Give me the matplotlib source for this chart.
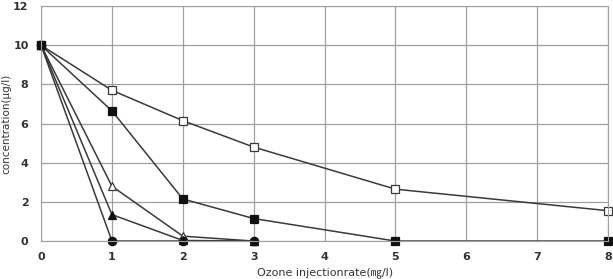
import matplotlib
matplotlib.use("Agg")
import matplotlib.pyplot as plt

plt.rcParams['font.family'] = ['DejaVu Sans', 'Noto Sans CJK KR']

x_open_sq = [0, 1, 2, 3, 5, 8]
y_open_sq = [10, 7.7, 6.15, 4.8, 2.65, 1.55]
x_fill_sq = [0, 1, 2, 3, 5, 8]
y_fill_sq = [10, 6.65, 2.15, 1.15, 0, 0]
x_open_tri = [0, 1, 2, 3]
y_open_tri = [10, 2.8, 0.25, 0]
x_fill_tri = [0, 1, 2, 3]
y_fill_tri = [10, 1.35, 0.03, 0]
x_circle = [0, 1, 2, 3]
y_circle = [10, 0, 0, 0]

fig = plt.figure(figsize=(6.13, 2.79), dpi=100)
ax = fig.add_axes([0.067, 0.136, 0.925, 0.842])

lc = '#3a3a3a'
kw = dict(color=lc, lw=1.1, markersize=6, markeredgewidth=0.9, clip_on=False)
ax.plot(x_open_sq, y_open_sq, marker='s', mfc='white', mec=lc, **kw)
ax.plot(x_open_tri, y_open_tri, marker='^', mfc='white', mec=lc, **kw)
ax.plot(x_circle, y_circle, marker='o', mfc='#111111', mec='#111111', **kw)
ax.plot(x_fill_tri, y_fill_tri, marker='^', mfc='#111111', mec='#111111', **kw)
ax.plot(x_fill_sq, y_fill_sq, marker='s', mfc='#111111', mec='#111111', **kw)

ax.set_xlim(0, 8)
ax.set_ylim(0, 12)
ax.set_xticks(range(0, 9))
ax.set_yticks(range(0, 13, 2))
ax.grid(True, color='#a0a0a0', lw=0.9)
ax.set_axisbelow(True)
for s in ax.spines.values():
    s.set_color('#a0a0a0')
ax.tick_params(axis='x', length=0, pad=8, labelsize=8, labelcolor='#333333')
ax.tick_params(axis='y', length=0, pad=9, labelsize=8, labelcolor='#333333')
for lab in ax.get_xticklabels() + ax.get_yticklabels():
    lab.set_fontweight('bold')

ax.set_xlabel('Ozone injectionrate(㎎/l)', fontsize=8, color='#333333', labelpad=4)
ax.set_ylabel('concentration(μg/l)', fontsize=7.5, color='#333333', labelpad=1)

fig.savefig('out.png', dpi=100)
